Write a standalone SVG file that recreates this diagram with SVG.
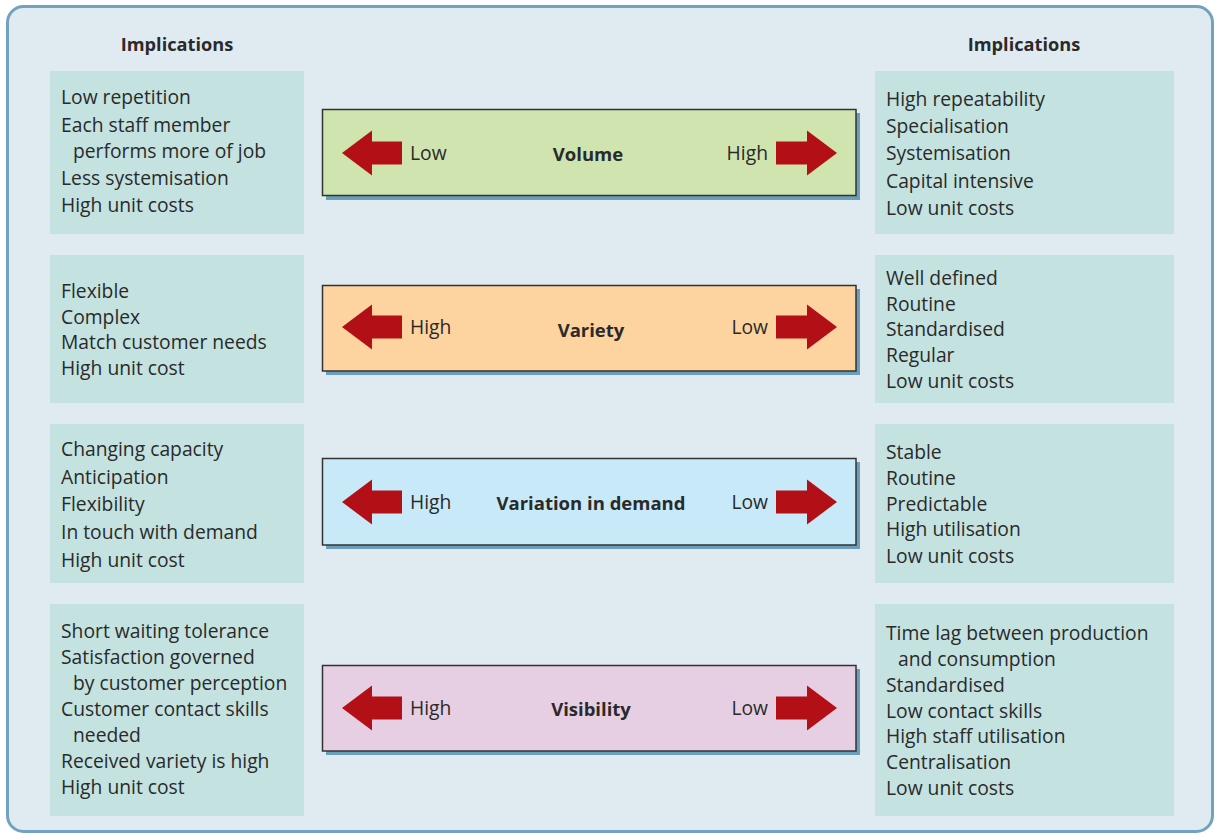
<svg xmlns="http://www.w3.org/2000/svg" width="1215" height="834" viewBox="0 0 1215 834">
<defs>
<style>
.frame{fill:#e0ebf1;stroke:#6fa3bf;stroke-width:3}
.imp{fill:#c4e2e0}
.t{font-family:"Open Sans","Liberation Sans",sans-serif;font-size:19.3px;fill:#2a2a2a}
.b{font-family:"Open Sans","Liberation Sans",sans-serif;font-size:18.5px;font-weight:bold;fill:#2a2a2a}
.h{font-family:"Open Sans","Liberation Sans",sans-serif;font-size:18.2px;font-weight:bold;fill:#2a2a2a}
.shadow{fill:#6a9fbb}
.bar{stroke:#333;stroke-width:1.5}
.arrow{fill:#b30f16}
</style>
<path id="la" d="M0,0 L30,-22.5 L30,-11.5 L60,-11.5 L60,11.5 L30,11.5 L30,22.5 Z"/>
<path id="ra" d="M0,0 L-30,-22.5 L-30,-11.5 L-61,-11.5 L-61,11.5 L-30,11.5 L-30,22.5 Z"/>
</defs>
<rect class="frame" x="7.5" y="6.5" width="1205" height="825" rx="16"/>
<text class="h" x="177" y="51" text-anchor="middle">Implications</text>
<text class="h" x="1024" y="51" text-anchor="middle">Implications</text>

<g id="left-volume">
<rect class="imp" x="50" y="71" width="254" height="163"/>
<text class="t" x="61" y="104">Low repetition</text>
<text class="t" x="61" y="132">Each staff member</text>
<text class="t" x="73" y="158">performs more of job</text>
<text class="t" x="61" y="184.5">Less systemisation</text>
<text class="t" x="61" y="212">High unit costs</text>
</g>
<g id="left-variety">
<rect class="imp" x="50" y="255" width="254" height="148"/>
<text class="t" x="61" y="298">Flexible</text>
<text class="t" x="61" y="323.5">Complex</text>
<text class="t" x="61" y="349">Match customer needs</text>
<text class="t" x="61" y="374.5">High unit cost</text>
</g>
<g id="left-variation">
<rect class="imp" x="50" y="424" width="254" height="159"/>
<text class="t" x="61" y="456">Changing capacity</text>
<text class="t" x="61" y="484">Anticipation</text>
<text class="t" x="61" y="511">Flexibility</text>
<text class="t" x="61" y="539">In touch with demand</text>
<text class="t" x="61" y="567">High unit cost</text>
</g>
<g id="left-visibility">
<rect class="imp" x="50" y="604" width="254" height="212"/>
<text class="t" x="61" y="638">Short waiting tolerance</text>
<text class="t" x="61" y="664">Satisfaction governed</text>
<text class="t" x="73" y="690">by customer perception</text>
<text class="t" x="61" y="716">Customer contact skills</text>
<text class="t" x="73" y="742">needed</text>
<text class="t" x="61" y="768">Received variety is high</text>
<text class="t" x="61" y="793.5">High unit cost</text>
</g>

<g id="right-volume">
<rect class="imp" x="875" y="71" width="299" height="163"/>
<text class="t" x="886" y="106">High repeatability</text>
<text class="t" x="886" y="133">Specialisation</text>
<text class="t" x="886" y="160">Systemisation</text>
<text class="t" x="886" y="188">Capital intensive</text>
<text class="t" x="886" y="215">Low unit costs</text>
</g>
<g id="right-variety">
<rect class="imp" x="875" y="255" width="299" height="148"/>
<text class="t" x="886" y="284.5">Well defined</text>
<text class="t" x="886" y="310.5">Routine</text>
<text class="t" x="886" y="336">Standardised</text>
<text class="t" x="886" y="361.5">Regular</text>
<text class="t" x="886" y="387.5">Low unit costs</text>
</g>
<g id="right-variation">
<rect class="imp" x="875" y="424" width="299" height="159"/>
<text class="t" x="886" y="459">Stable</text>
<text class="t" x="886" y="485">Routine</text>
<text class="t" x="886" y="510.5">Predictable</text>
<text class="t" x="886" y="536">High utilisation</text>
<text class="t" x="886" y="563">Low unit costs</text>
</g>
<g id="right-visibility">
<rect class="imp" x="875" y="604" width="299" height="212"/>
<text class="t" x="886" y="640">Time lag between production</text>
<text class="t" x="898" y="666">and consumption</text>
<text class="t" x="886" y="692">Standardised</text>
<text class="t" x="886" y="717.5">Low contact skills</text>
<text class="t" x="886" y="743">High staff utilisation</text>
<text class="t" x="886" y="769">Centralisation</text>
<text class="t" x="886" y="794.5">Low unit costs</text>
</g>

<g id="bar-volume">
<rect class="shadow" x="326" y="113" width="534" height="87"/>
<rect class="bar" x="322.5" y="109.5" width="533.5" height="86" fill="#d0e4b0"/>
<use href="#la" class="arrow" x="342" y="153"/>
<use href="#ra" class="arrow" x="837" y="153"/>
<text class="t" x="410" y="160">Low</text>
<text class="t" x="768" y="160" text-anchor="end">High</text>
<text class="b" x="588" y="161" text-anchor="middle">Volume</text>
</g>
<g id="bar-variety">
<rect class="shadow" x="326" y="289" width="534" height="86"/>
<rect class="bar" x="322.5" y="285.5" width="533.5" height="85.5" fill="#fdd3a0"/>
<use href="#la" class="arrow" x="342" y="327"/>
<use href="#ra" class="arrow" x="837" y="327"/>
<text class="t" x="410" y="334">High</text>
<text class="t" x="768" y="334" text-anchor="end">Low</text>
<text class="b" x="591" y="337" text-anchor="middle">Variety</text>
</g>
<g id="bar-variation">
<rect class="shadow" x="326" y="462" width="534" height="87"/>
<rect class="bar" x="322.5" y="458.5" width="533.5" height="86.5" fill="#c7e9f8"/>
<use href="#la" class="arrow" x="342" y="502"/>
<use href="#ra" class="arrow" x="837" y="502"/>
<text class="t" x="410" y="509">High</text>
<text class="t" x="768" y="509" text-anchor="end">Low</text>
<text class="b" x="591" y="510" text-anchor="middle">Variation in demand</text>
</g>
<g id="bar-visibility">
<rect class="shadow" x="326" y="669" width="534" height="86"/>
<rect class="bar" x="322.5" y="665.5" width="533.5" height="85.5" fill="#e7cfe3"/>
<use href="#la" class="arrow" x="342" y="708"/>
<use href="#ra" class="arrow" x="837" y="708"/>
<text class="t" x="410" y="715">High</text>
<text class="t" x="768" y="715" text-anchor="end">Low</text>
<text class="b" x="591" y="716" text-anchor="middle">Visibility</text>
</g>
<g id="connectors"/>
</svg>
